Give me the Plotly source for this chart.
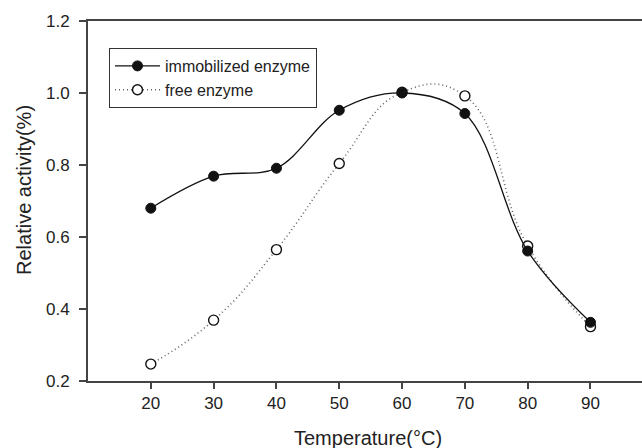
import plotly.graph_objects as go

temps = [20, 30, 40, 50, 60, 70, 80, 90]
immobilized = [0.68, 0.769, 0.791, 0.952, 1.0, 0.943, 0.561, 0.363]
free = [0.247, 0.369, 0.565, 0.804, 1.002, 0.992, 0.575, 0.351]
x_ticks = [20, 30, 40, 50, 60, 70, 80, 90]
y_ticks = [0.2, 0.4, 0.6, 0.8, 1.0, 1.2]

fig = go.Figure()
fig.add_trace(go.Scatter(
    x=temps, y=free, name="free enzyme", mode="lines+markers",
    line=dict(color="#666666", width=1.6, dash="1px,3px", shape="spline", smoothing=1.3),
    marker=dict(symbol="circle", size=10, color="white", line=dict(color="#111111", width=1.4)),
))
fig.add_trace(go.Scatter(
    x=temps, y=immobilized, name="immobilized enzyme", mode="lines+markers",
    line=dict(color="#111111", width=1.3, shape="spline", smoothing=1.0),
    marker=dict(symbol="circle", size=10, color="#111111", line=dict(color="#111111", width=1)),
))

font = "Liberation Sans, Arial, sans-serif"
L, R, T, B = 88, 0, 21, 67
pw, ph = 642 - L - R, 448 - T - B
fig.update_layout(
    width=642, height=448,
    margin=dict(l=L, r=R, t=T, b=B),
    paper_bgcolor="white", plot_bgcolor="white",
    font=dict(family=font, color="#222222", size=17),
    showlegend=True,
    legend=dict(
        x=(109 - L) / pw, y=(T + ph - 48) / ph, xanchor="left", yanchor="top",
        bgcolor="white", bordercolor="#333333", borderwidth=1,
        font=dict(size=16, family=font, color="#222222"),
        traceorder="reversed", tracegroupgap=0, itemwidth=45,
    ),
    xaxis=dict(
        range=[10, 98.2], tickvals=x_ticks, ticks="outside", ticklen=6, tickwidth=1.5,
        tickcolor="#444444", showline=True, linecolor="#444444", linewidth=2, mirror=True,
        showgrid=False, zeroline=False, tickfont=dict(size=17),
    ),
    yaxis=dict(
        range=[0.2, 1.2], tickvals=y_ticks, tickformat=".1f", ticks="outside", ticklen=7,
        tickwidth=1.5, tickcolor="#444444", showline=True, linecolor="#444444", linewidth=2,
        showgrid=False, zeroline=False, tickfont=dict(size=17), ticklabelstandoff=6,
    ),
    annotations=[
        dict(
            text="Temperature(°C)", x=(368 - L) / pw, y=(T + ph - 438) / ph, xref="paper", yref="paper",
            xanchor="center", yanchor="middle", showarrow=False,
            font=dict(size=20, family=font, color="#222222"),
        ),
        dict(
            text="Relative activity(%)", x=(24 - L) / pw, y=(T + ph - 190) / ph, xref="paper", yref="paper",
            xanchor="center", yanchor="middle", showarrow=False, textangle=-90,
            font=dict(size=20, family=font, color="#222222"),
        ),
    ],
)

fig.write_html("out.html")
